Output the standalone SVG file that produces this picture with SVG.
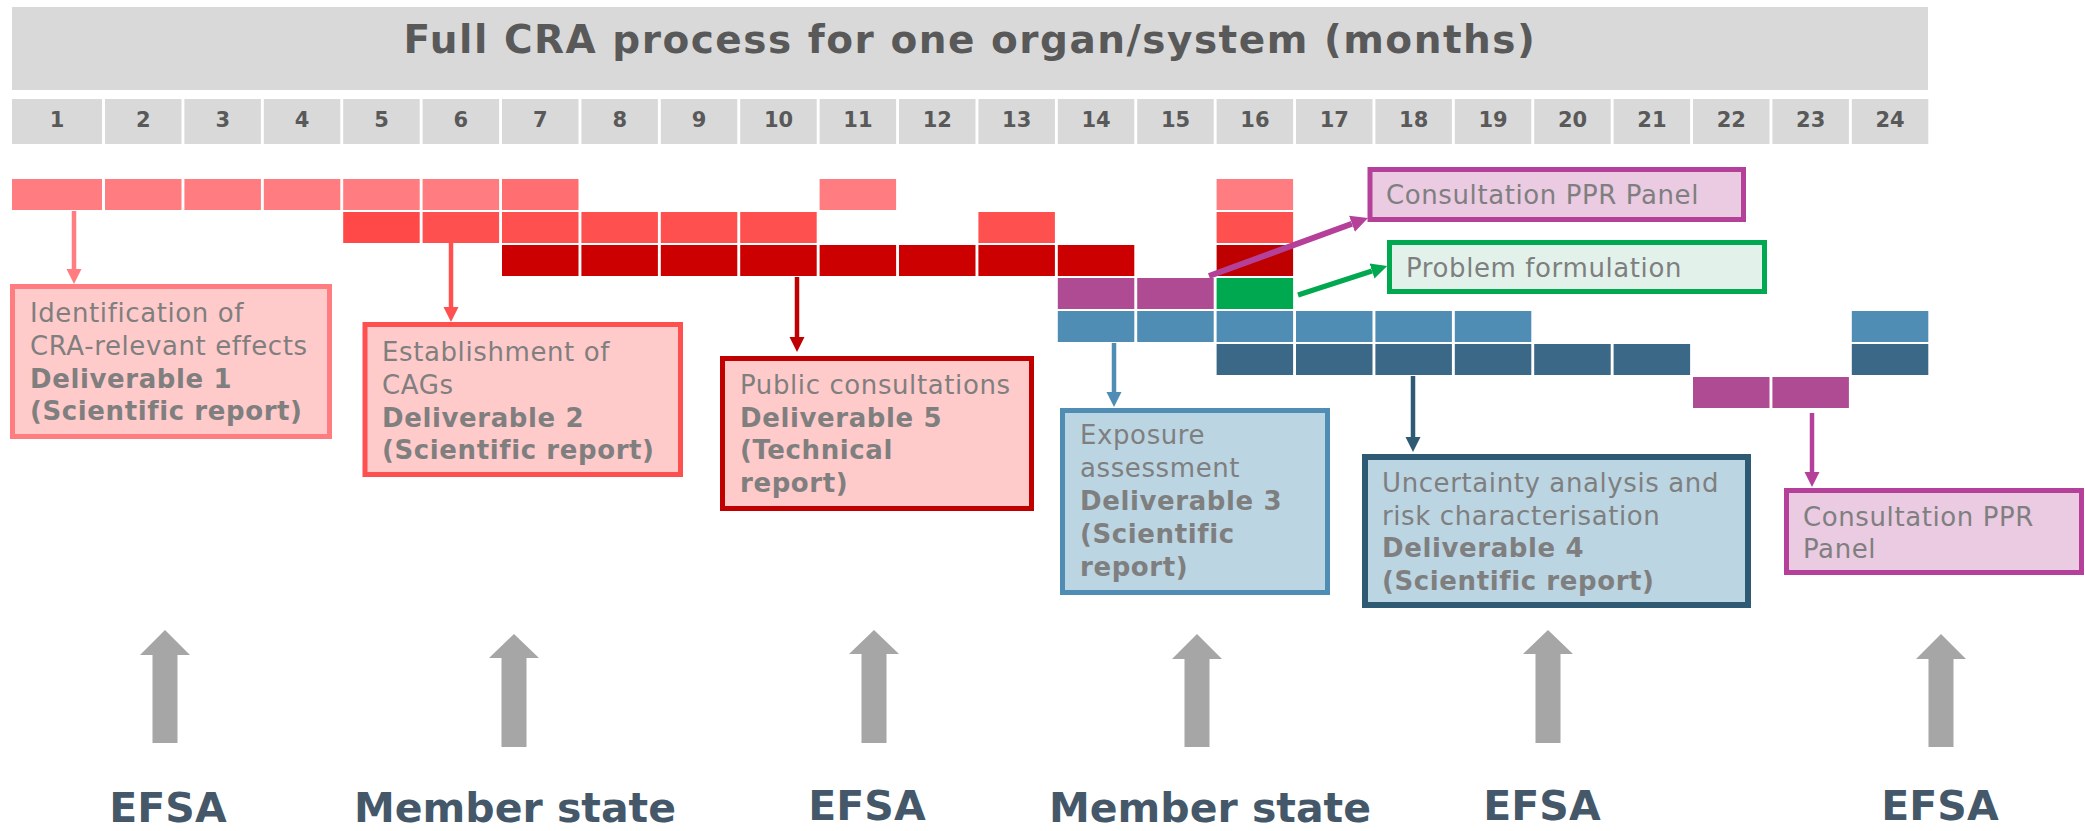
<svg xmlns="http://www.w3.org/2000/svg" width="2085" height="831" viewBox="0 0 2085 831">
<style>
.hdr{fill:#D9D9D9}
.num{font-family:"DejaVu Sans",Verdana,sans-serif;font-weight:bold;font-size:21px;fill:#595959;text-anchor:middle}
.ttl{font-family:"DejaVu Sans",Verdana,sans-serif;font-weight:bold;font-size:39px;fill:#595959;text-anchor:middle;letter-spacing:1.5px}
.bt{font-family:"DejaVu Sans",Verdana,sans-serif;font-size:26px;fill:#7F7F7F;letter-spacing:0.6px}
.bt .b{font-weight:bold}
.lbl{font-family:"DejaVu Sans",Verdana,sans-serif;font-weight:bold;font-size:41px;fill:#445869;text-anchor:middle}
.gray{fill:#A6A6A6}
.p1{fill:#FF7C80}.p2{fill:#FF5050}.p3{fill:#CC0000}.pu{fill:#AE4B93}.gr{fill:#00A84F}.bl{fill:#4F8DB5}.db{fill:#3A6886}
.box{stroke-width:5}
.conn{fill:none}
</style>
<defs>
<marker id="mPink" viewBox="0 0 10 10" refX="0" refY="5" markerWidth="15" markerHeight="18" markerUnits="userSpaceOnUse" orient="auto"><path d="M0,0 L10,5 L0,10 z" fill="#FF7C80"/></marker>
<marker id="mRed" viewBox="0 0 10 10" refX="0" refY="5" markerWidth="15" markerHeight="18" markerUnits="userSpaceOnUse" orient="auto"><path d="M0,0 L10,5 L0,10 z" fill="#FF5050"/></marker>
<marker id="mDark" viewBox="0 0 10 10" refX="0" refY="5" markerWidth="15" markerHeight="18" markerUnits="userSpaceOnUse" orient="auto"><path d="M0,0 L10,5 L0,10 z" fill="#C00000"/></marker>
<marker id="mBlue" viewBox="0 0 10 10" refX="0" refY="5" markerWidth="15" markerHeight="18" markerUnits="userSpaceOnUse" orient="auto"><path d="M0,0 L10,5 L0,10 z" fill="#4F8DB5"/></marker>
<marker id="mNavy" viewBox="0 0 10 10" refX="0" refY="5" markerWidth="15" markerHeight="18" markerUnits="userSpaceOnUse" orient="auto"><path d="M0,0 L10,5 L0,10 z" fill="#2E5A73"/></marker>
<marker id="mPurple" viewBox="0 0 10 10" refX="0" refY="5" markerWidth="15" markerHeight="18" markerUnits="userSpaceOnUse" orient="auto"><path d="M0,0 L10,5 L0,10 z" fill="#B5409A"/></marker>
<marker id="mPurpleL" viewBox="0 0 10 10" refX="0" refY="5" markerWidth="17" markerHeight="21" markerUnits="userSpaceOnUse" orient="auto"><path d="M0,0 L10,5 L0,10 z" fill="#B5409A"/></marker>
<marker id="mGreen" viewBox="0 0 10 10" refX="0" refY="5" markerWidth="16" markerHeight="19" markerUnits="userSpaceOnUse" orient="auto"><path d="M0,0 L10,5 L0,10 z" fill="#00A84F"/></marker>
</defs>
<rect width="2085" height="831" fill="#FFFFFF"/>

<g id="title">
<rect class="hdr" x="12" y="7" width="1916" height="83"/>
<text class="ttl" x="970" y="53">Full CRA process for one organ/system (months)</text>
</g>

<g id="months">
<rect class="hdr" x="12" y="99" width="90" height="45"/>
<rect class="hdr" x="105" y="99" width="76.5" height="45"/>
<rect class="hdr" x="184.4" y="99" width="76.5" height="45"/>
<rect class="hdr" x="263.8" y="99" width="76.5" height="45"/>
<rect class="hdr" x="343.2" y="99" width="76.5" height="45"/>
<rect class="hdr" x="422.6" y="99" width="76.5" height="45"/>
<rect class="hdr" x="502" y="99" width="76.5" height="45"/>
<rect class="hdr" x="581.4" y="99" width="76.5" height="45"/>
<rect class="hdr" x="660.8" y="99" width="76.5" height="45"/>
<rect class="hdr" x="740.2" y="99" width="76.5" height="45"/>
<rect class="hdr" x="819.6" y="99" width="76.5" height="45"/>
<rect class="hdr" x="899" y="99" width="76.5" height="45"/>
<rect class="hdr" x="978.4" y="99" width="76.5" height="45"/>
<rect class="hdr" x="1057.8" y="99" width="76.5" height="45"/>
<rect class="hdr" x="1137.2" y="99" width="76.5" height="45"/>
<rect class="hdr" x="1216.6" y="99" width="76.5" height="45"/>
<rect class="hdr" x="1296" y="99" width="76.5" height="45"/>
<rect class="hdr" x="1375.4" y="99" width="76.5" height="45"/>
<rect class="hdr" x="1454.8" y="99" width="76.5" height="45"/>
<rect class="hdr" x="1534.2" y="99" width="76.5" height="45"/>
<rect class="hdr" x="1613.6" y="99" width="76.5" height="45"/>
<rect class="hdr" x="1693" y="99" width="76.5" height="45"/>
<rect class="hdr" x="1772.4" y="99" width="76.5" height="45"/>
<rect class="hdr" x="1851.8" y="99" width="76.5" height="45"/>
<text class="num" x="57" y="127">1</text>
<text class="num" x="143.3" y="127">2</text>
<text class="num" x="222.7" y="127">3</text>
<text class="num" x="302.1" y="127">4</text>
<text class="num" x="381.5" y="127">5</text>
<text class="num" x="460.9" y="127">6</text>
<text class="num" x="540.3" y="127">7</text>
<text class="num" x="619.7" y="127">8</text>
<text class="num" x="699.1" y="127">9</text>
<text class="num" x="778.5" y="127">10</text>
<text class="num" x="857.9" y="127">11</text>
<text class="num" x="937.3" y="127">12</text>
<text class="num" x="1016.7" y="127">13</text>
<text class="num" x="1096.1" y="127">14</text>
<text class="num" x="1175.5" y="127">15</text>
<text class="num" x="1254.9" y="127">16</text>
<text class="num" x="1334.3" y="127">17</text>
<text class="num" x="1413.7" y="127">18</text>
<text class="num" x="1493.1" y="127">19</text>
<text class="num" x="1572.5" y="127">20</text>
<text class="num" x="1651.9" y="127">21</text>
<text class="num" x="1731.3" y="127">22</text>
<text class="num" x="1810.7" y="127">23</text>
<text class="num" x="1890.1" y="127">24</text>
</g>

<g id="bars">
<rect class="p1" x="12" y="179" width="90" height="31"/>
<rect class="p1" x="105" y="179" width="76.5" height="31"/>
<rect class="p1" x="184.4" y="179" width="76.5" height="31"/>
<rect class="p1" x="263.8" y="179" width="76.5" height="31"/>
<rect class="p1" x="343.2" y="179" width="76.5" height="31"/>
<rect class="p1" x="422.6" y="179" width="76.5" height="31"/>
<rect fill="#FF6E70" x="502" y="179" width="76.5" height="31"/>
<rect class="p1" x="819.6" y="179" width="76.5" height="31"/>
<rect class="p1" x="1216.6" y="179" width="76.5" height="31"/>
<rect fill="#FF4848" x="343.2" y="212" width="76.5" height="31"/>
<rect class="p2" x="422.6" y="212" width="76.5" height="31"/>
<rect class="p2" x="502" y="212" width="76.5" height="31"/>
<rect class="p2" x="581.4" y="212" width="76.5" height="31"/>
<rect class="p2" x="660.8" y="212" width="76.5" height="31"/>
<rect class="p2" x="740.2" y="212" width="76.5" height="31"/>
<rect class="p2" x="978.4" y="212" width="76.5" height="31"/>
<rect class="p2" x="1216.6" y="212" width="76.5" height="31"/>
<rect class="p3" x="502" y="245" width="76.5" height="31"/>
<rect class="p3" x="581.4" y="245" width="76.5" height="31"/>
<rect class="p3" x="660.8" y="245" width="76.5" height="31"/>
<rect class="p3" x="740.2" y="245" width="76.5" height="31"/>
<rect class="p3" x="819.6" y="245" width="76.5" height="31"/>
<rect class="p3" x="899" y="245" width="76.5" height="31"/>
<rect class="p3" x="978.4" y="245" width="76.5" height="31"/>
<rect class="p3" x="1057.8" y="245" width="76.5" height="31"/>
<rect fill="#BF0000" x="1216.6" y="245" width="76.5" height="31"/>
<rect class="pu" x="1057.8" y="278" width="76.5" height="31"/>
<rect class="pu" x="1137.2" y="278" width="76.5" height="31"/>
<rect class="gr" x="1216.6" y="278" width="76.5" height="31"/>
<rect class="bl" x="1057.8" y="311" width="76.5" height="31"/>
<rect class="bl" x="1137.2" y="311" width="76.5" height="31"/>
<rect class="bl" x="1216.6" y="311" width="76.5" height="31"/>
<rect class="bl" x="1296" y="311" width="76.5" height="31"/>
<rect class="bl" x="1375.4" y="311" width="76.5" height="31"/>
<rect class="bl" x="1454.8" y="311" width="76.5" height="31"/>
<rect class="bl" x="1851.8" y="311" width="76.5" height="31"/>
<rect class="db" x="1216.6" y="344" width="76.5" height="31"/>
<rect class="db" x="1296" y="344" width="76.5" height="31"/>
<rect class="db" x="1375.4" y="344" width="76.5" height="31"/>
<rect class="db" x="1454.8" y="344" width="76.5" height="31"/>
<rect class="db" x="1534.2" y="344" width="76.5" height="31"/>
<rect class="db" x="1613.6" y="344" width="76.5" height="31"/>
<rect class="db" x="1851.8" y="344" width="76.5" height="31"/>
<rect class="pu" x="1693" y="377" width="76.5" height="31"/>
<rect class="pu" x="1772.4" y="377" width="76.5" height="31"/>
</g>

<g id="box-d1">
<rect class="box" x="12.5" y="286.5" width="317" height="150" fill="#FFCACA" stroke="#FF7C80"/>
<text class="bt"><tspan x="30" y="322">Identification of</tspan><tspan x="30" y="355">CRA-relevant effects</tspan><tspan class="b" x="30" y="388">Deliverable 1</tspan><tspan class="b" x="30" y="420">(Scientific report)</tspan></text>
</g>

<g id="box-d2">
<rect class="box" x="365" y="324.5" width="315.5" height="150" fill="#FFCACA" stroke="#FF5050"/>
<text class="bt"><tspan x="382" y="361">Establishment of</tspan><tspan x="382" y="394">CAGs</tspan><tspan class="b" x="382" y="427">Deliverable 2</tspan><tspan class="b" x="382" y="459">(Scientific report)</tspan></text>
</g>

<g id="box-d5">
<rect class="box" x="722.5" y="358.5" width="309" height="150" fill="#FFCACA" stroke="#C00000"/>
<text class="bt"><tspan x="740" y="394">Public consultations</tspan><tspan class="b" x="740" y="427">Deliverable 5</tspan><tspan class="b" x="740" y="459">(Technical</tspan><tspan class="b" x="740" y="492">report)</tspan></text>
</g>

<g id="box-d3">
<rect class="box" x="1062.5" y="410.5" width="265" height="182" fill="#BBD5E3" stroke="#4F8DB5"/>
<text class="bt"><tspan x="1080" y="444">Exposure</tspan><tspan x="1080" y="477">assessment</tspan><tspan class="b" x="1080" y="510">Deliverable 3</tspan><tspan class="b" x="1080" y="543">(Scientific</tspan><tspan class="b" x="1080" y="576">report)</tspan></text>
</g>

<g id="box-d4">
<rect x="1365" y="457" width="383" height="148" fill="#BBD5E3" stroke="#2E5A73" stroke-width="6"/>
<text class="bt"><tspan x="1382" y="492">Uncertainty analysis and</tspan><tspan x="1382" y="525">risk characterisation</tspan><tspan class="b" x="1382" y="557">Deliverable 4</tspan><tspan class="b" x="1382" y="590">(Scientific report)</tspan></text>
</g>

<g id="box-ppr-final">
<rect class="box" x="1786.5" y="490.5" width="295" height="82" fill="#EACBE2" stroke="#B5409A"/>
<text class="bt"><tspan x="1803" y="526">Consultation PPR</tspan><tspan x="1803" y="558">Panel</tspan></text>
</g>

<g id="box-ppr-early">
<rect class="box" x="1370" y="169.5" width="373.5" height="50" fill="#EACBE2" stroke="#B5409A"/>
<text class="bt" x="1386" y="204">Consultation PPR Panel</text>
</g>

<g id="box-problem">
<rect class="box" x="1389.5" y="242.5" width="375" height="49" fill="#E2F2EB" stroke="#00A84F"/>
<text class="bt" x="1406" y="277">Problem formulation</text>
</g>

<g id="connectors" class="conn">
<line x1="74" y1="211" x2="74" y2="269" stroke="#FF7C80" stroke-width="4.5" marker-end="url(#mPink)"/>
<line x1="451" y1="243" x2="451" y2="307" stroke="#FF5050" stroke-width="4.5" marker-end="url(#mRed)"/>
<line x1="797" y1="277" x2="797" y2="337" stroke="#C00000" stroke-width="4.5" marker-end="url(#mDark)"/>
<line x1="1114" y1="343" x2="1114" y2="392" stroke="#4F8DB5" stroke-width="4.5" marker-end="url(#mBlue)"/>
<line x1="1413" y1="376" x2="1413" y2="437" stroke="#2E5A73" stroke-width="4.5" marker-end="url(#mNavy)"/>
<line x1="1812" y1="413" x2="1812" y2="472" stroke="#B5409A" stroke-width="4.5" marker-end="url(#mPurple)"/>
<line x1="1209" y1="276" x2="1352" y2="223.8" stroke="#B5409A" stroke-width="6" marker-end="url(#mPurpleL)"/>
<line x1="1298" y1="295" x2="1372" y2="271" stroke="#00A84F" stroke-width="5" marker-end="url(#mGreen)"/>
</g>

<g id="responsibility">
<g id="resp-1"><polygon class="gray" points="165,630 190,655 177.5,655 177.5,743 152.5,743 152.5,655 140,655"/><text class="lbl" x="168" y="822">EFSA</text></g>
<g id="resp-2"><polygon class="gray" points="514,634 539,658 526.5,658 526.5,747 501.5,747 501.5,658 489,658"/><text class="lbl" x="515" y="822">Member state</text></g>
<g id="resp-3"><polygon class="gray" points="874,630 899,654 886.5,654 886.5,743 861.5,743 861.5,654 849,654"/><text class="lbl" x="867" y="820">EFSA</text></g>
<g id="resp-4"><polygon class="gray" points="1197,634 1222,659 1209.5,659 1209.5,747 1184.5,747 1184.5,659 1172,659"/><text class="lbl" x="1210" y="822">Member state</text></g>
<g id="resp-5"><polygon class="gray" points="1548,630 1573,654 1560.5,654 1560.5,743 1535.5,743 1535.5,654 1523,654"/><text class="lbl" x="1542" y="820">EFSA</text></g>
<g id="resp-6"><polygon class="gray" points="1941,634 1966,659 1953.5,659 1953.5,747 1928.5,747 1928.5,659 1916,659"/><text class="lbl" x="1940" y="820">EFSA</text></g>
</g>
</svg>
